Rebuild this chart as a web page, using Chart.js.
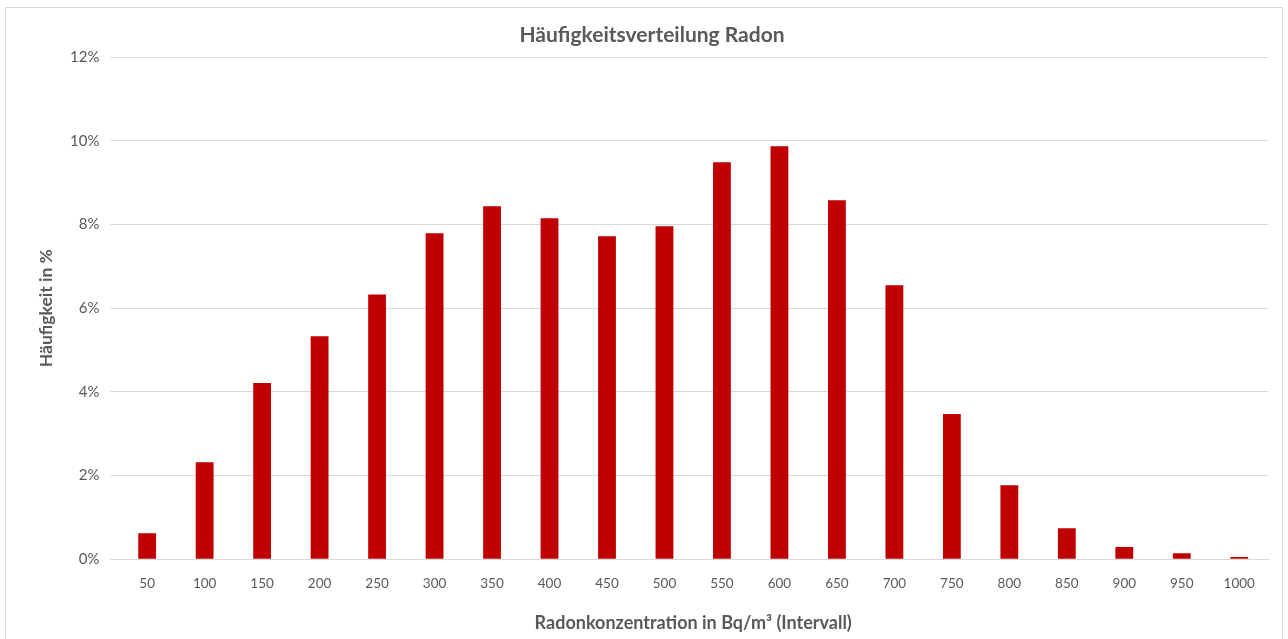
<!DOCTYPE html>
<html>
<head>
<meta charset="utf-8">
<script src="https://cdn.jsdelivr.net/npm/chart.js@4"></script>
<style>
  body { margin: 0; background: #fff; }
  #frame { position: absolute; left: 5px; top: 7px; width: 1278px; height: 640px; border: 1px solid #d9d9d9; box-sizing: border-box; }
  #wrap { position: absolute; left: 0; top: 0; width: 1288px; height: 639px; }
</style>
</head>
<body>
<div id="frame"></div>
<div id="wrap"><canvas id="myChart"></canvas></div>
<script>
// Categories (interval upper bounds, Bq/m³)
var xLabels = ['50', '100', '150', '200', '250', '300', '350', '400', '450', '500',
               '550', '600', '650', '700', '750', '800', '850', '900', '950', '1000'];

// Share of measurements per interval (fraction)
var haeufigkeit = [0.0062, 0.0232, 0.0421, 0.0533, 0.0633, 0.0779, 0.0844, 0.0815, 0.0772, 0.0796,
                   0.0949, 0.0987, 0.0858, 0.0655, 0.0347, 0.0177, 0.0074, 0.0029, 0.0014, 0.0005];

// Y axis settings
var yMin = 0;
var yMax = 0.12;
var yStep = 0.02;

var textColor = '#595959';
var gridColor = '#d9d9d9';
var barColor = '#c00000';
var fontFamily = 'Lato, "Open Sans", sans-serif';

const data = {
    labels: xLabels,
    datasets: [{
        label: 'Häufigkeit',
        data: haeufigkeit,
        backgroundColor: barColor,
        barPercentage: 0.31,
        categoryPercentage: 1.0,
    }]
};

const config = {
    type: 'bar',
    data,
    options: {
        responsive: false,
        animation: false,
        layout: {
            padding: { left: 36, right: 20, top: 8, bottom: 5 }
        },
        scales: {
            x: {
                grid: { display: false },
                border: { color: gridColor },
                ticks: {
                    color: textColor,
                    font: { family: fontFamily, size: 13.5 },
                    padding: 8,
                },
                title: {
                    display: true,
                    text: 'Radonkonzentration in Bq/m³ (Intervall)',
                    color: textColor,
                    font: { family: fontFamily, size: 18, weight: 'bold' },
                    padding: { top: 13, bottom: 0 },
                }
            },
            y: {
                min: yMin,
                max: yMax,
                grid: { color: gridColor },
                border: { display: false },
                ticks: {
                    stepSize: yStep,
                    color: textColor,
                    font: { family: fontFamily, size: 15 },
                    padding: 11,
                    callback: function (v) { return Math.round(v * 100) + '%'; }
                },
                title: {
                    display: true,
                    text: 'Häufigkeit in %',
                    color: textColor,
                    font: { family: fontFamily, size: 17.5, weight: 'bold' },
                    padding: { top: 0, bottom: 2 },
                }
            }
        },
        plugins: {
            legend: { display: false },
            tooltip: { enabled: false },
            title: {
                display: true,
                text: 'Häufigkeitsverteilung Radon',
                color: textColor,
                font: { family: fontFamily, size: 21, weight: 'bold' },
                padding: { top: 15, bottom: 9 },
            }
        }
    }
};

var canvas = document.getElementById('myChart');
canvas.width = 1288;
canvas.height = 639;
var myChart = new Chart(canvas, config);
</script>
</body>
</html>
